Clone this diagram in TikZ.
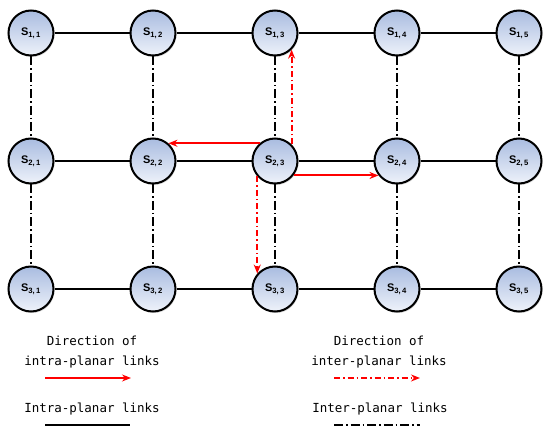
\documentclass[tikz,border=0pt]{standalone}
\usepackage{fontspec}
\newfontfamily\satfont{Liberation Sans}
\newfontfamily\legfont{DejaVu Sans Mono}
\usetikzlibrary{arrows.meta,shadows}
\definecolor{satdark}{HTML}{A9BCE0}
\definecolor{satlight}{HTML}{EEF2FA}
\tikzset{
  sat/.style={circle,draw,line width=2pt,minimum size=45pt,inner sep=0pt,
    top color=satdark,bottom color=satlight,
    drop shadow={opacity=0.3,shadow xshift=1pt,shadow yshift=-1.5pt},
    font=\satfont\bfseries\fontsize{11}{11}\selectfont},
  intra/.style={line width=1.3pt},
  inter/.style={line width=1.6pt,dash pattern=on 9pt off 3pt on 1.5pt off 3pt},
  dirintra/.style={draw=red,line width=1.5pt,-{Stealth[length=9pt,width=7pt]}},
  dirinter/.style={dirintra,dash pattern=on 6pt off 3pt on 1.5pt off 3pt},
  legend/.style={font=\legfont\fontsize{12.5}{20}\selectfont,align=center}
}
\begin{document}
\begin{tikzpicture}[x=1pt,y=-1pt]
\useasboundingbox (0,0) rectangle (550,438);
% satellites
\foreach \r in {1,2,3}
  \foreach \c in {1,...,5}
    \node[sat] (s\r\c) at ({31+122*(\c-1)},{33+128*(\r-1)}) {S\textsubscript{\r,\,\c}};
% intra-planar links
\foreach \r in {1,2,3}
  \foreach \c/\d in {1/2,2/3,3/4,4/5}
    \draw[intra] (s\r\c) -- (s\r\d);
% inter-planar links
\foreach \c in {1,...,5} {
  \draw[inter] (s1\c) -- (s2\c);
  \draw[inter] (s2\c) -- (s3\c);
}
% directions from s23
\draw[dirintra,line width=2pt] (s23.131) -- (s22.49);
\draw[dirintra,line width=2pt] (s23.-38) -- (s24.-142);
\draw[dirinter,line width=2pt] (s23.45) -- (s13.-45);
\draw[dirinter,line width=2pt] (s23.-139) -- (s33.139);
% legend
\node[legend] (dirintratext) at (92,352) {Direction of\\intra-planar links};
\node[legend] (dirintertext) at (379,352) {Direction of\\inter-planar links};
\node[legend] (intratext) at (92,409) {Intra-planar links};
\node[legend] (intertext) at (380,409) {Inter-planar links};
\coordinate (a1) at (45,378); \coordinate (a2) at (131,378);
\coordinate (b1) at (334,378); \coordinate (b2) at (420,378);
\coordinate (c1) at (45,425); \coordinate (c2) at (130,425);
\coordinate (d1) at (334,425); \coordinate (d2) at (420,425);
\draw[dirintra,line width=1.1pt] (a1) -- (a2);
\draw[dirinter,line width=1.6pt] (b1) -- (b2);
\draw[intra,line width=2.2pt] (c1) -- (c2);
\draw[inter,line width=1.6pt] (d1) -- (d2);
\end{tikzpicture}
\end{document}
